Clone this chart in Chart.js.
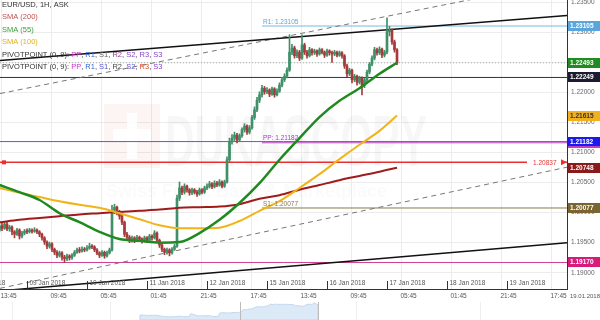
<!DOCTYPE html>
<html>
<head>
<meta charset="utf-8">
<script src="https://cdn.jsdelivr.net/npm/chart.js@4.4.1/dist/chart.umd.min.js"></script>
<style>
  html, body { margin: 0; padding: 0; background: #fff; }
  canvas { display: block; }
</style>
</head>
<body>
<canvas id="chart" width="600" height="320"></canvas>
<script>
/* ─── Data – EUR/USD 1H candles (hour index, weekend removed) ─── */
const firstHour = 13;          // 08 Jan 13:00
const firstOpen = 1.1971;

const closes = [
  1.1978,1.1974,1.1981,1.1973,1.1976,1.1968,1.1964,1.1971,1.1961,1.1966,
  1.1969,1.1968,1.1971,1.1969,1.1971,1.1968,1.1964,1.1958,1.1951,1.1944,
  1.1948,1.1939,1.1934,1.1929,1.1933,1.1926,1.1923,1.1928,1.1925,1.1929,
  1.1934,1.1938,1.1936,1.1939,1.1938,1.1941,1.1944,1.1943,1.1938,1.1933,
  1.1929,1.1934,1.1928,1.1933,1.1938,1.2004,1.2009,1.2001,1.1994,1.1984,
  1.1964,1.1959,1.1954,1.1958,1.1954,1.1959,1.1956,1.1953,1.1958,1.1954,
  1.1961,1.1958,1.1966,1.1954,1.1946,1.1939,1.1934,1.1938,1.1933,1.1939,
  1.1944,1.2024,1.2041,1.2034,1.2044,1.2038,1.2033,1.2038,1.2034,1.2031,
  1.2038,1.2034,1.2041,1.2044,1.2048,1.2043,1.2049,1.2046,1.2051,1.2044,
  1.2051,1.2088,1.2118,1.2124,1.2129,1.2121,1.2128,1.2138,1.2144,1.2134,
  1.2141,1.2158,1.2171,1.2187,1.2196,1.2207,1.2201,1.2204,1.2197,1.2206,
  1.2196,1.2202,1.2212,1.2221,1.2227,1.2237,1.2267,1.2274,1.2261,1.2267,
  1.2257,1.2279,1.2267,1.2261,1.2271,1.2266,1.2269,1.2264,1.2271,1.2267,
  1.2262,1.2269,1.2266,1.2264,1.2267,1.2262,1.2266,1.2261,1.2244,1.2231,
  1.2237,1.2221,1.2227,1.2217,1.2224,1.2212,1.2221,1.2234,1.2247,1.2257,
  1.2271,1.2266,1.2272,1.2262,1.2267,1.2301,1.2304,1.2284,1.2271,1.22493
];
const highs = [
  1.1983,1.1982,1.1985,1.1984,1.1979,1.1978,1.1970,1.1974,1.1973,1.1969,
  1.1972,1.1973,1.1974,1.1973,1.1975,1.1973,1.1970,1.1966,1.1960,1.1953,
  1.1951,1.1950,1.1941,1.1937,1.1936,1.1935,1.1929,1.1931,1.1930,1.1932,
  1.1937,1.1941,1.1942,1.1943,1.1942,1.1945,1.1949,1.1947,1.1945,1.1940,
  1.1935,1.1937,1.1936,1.1936,1.1941,1.2012,1.2014,1.2011,1.2004,1.1997,
  1.1986,1.1967,1.1962,1.1961,1.1960,1.1962,1.1961,1.1958,1.1961,1.1960,
  1.1964,1.1963,1.1970,1.1968,1.1956,1.1948,1.1941,1.1941,1.1940,1.1942,
  1.1947,1.2029,1.2051,1.2044,1.2048,1.2046,1.2040,1.2041,1.2040,1.2037,
  1.2041,1.2040,1.2044,1.2048,1.2052,1.2050,1.2053,1.2052,1.2055,1.2053,
  1.2054,1.2093,1.2124,1.2130,1.2134,1.2132,1.2131,1.2141,1.2148,1.2146,
  1.2145,1.2162,1.2176,1.2192,1.2201,1.2212,1.2210,1.2208,1.2206,1.2209,
  1.2208,1.2206,1.2216,1.2225,1.2231,1.2241,1.2296,1.2280,1.2277,1.2271,
  1.2270,1.2296,1.2282,1.2270,1.2275,1.2273,1.2272,1.2271,1.2274,1.2273,
  1.2269,1.2272,1.2271,1.2269,1.2270,1.2269,1.2269,1.2268,1.2263,1.2247,
  1.2240,1.2239,1.2230,1.2229,1.2227,1.2226,1.2224,1.2237,1.2250,1.2261,
  1.2275,1.2274,1.2276,1.2274,1.2270,1.2324,1.2310,1.2306,1.2287,1.2273
];
const lows = [
  1.1968,1.1970,1.1972,1.1970,1.1969,1.1963,1.1958,1.1962,1.1956,1.1958,
  1.1963,1.1965,1.1966,1.1966,1.1967,1.1965,1.1960,1.1954,1.1947,1.1940,
  1.1941,1.1935,1.1930,1.1925,1.1926,1.1921,1.1917,1.1920,1.1921,1.1922,
  1.1927,1.1932,1.1933,1.1934,1.1935,1.1936,1.1939,1.1940,1.1935,1.1930,
  1.1925,1.1927,1.1924,1.1926,1.1931,1.1936,1.1998,1.1996,1.1989,1.1980,
  1.1960,1.1955,1.1950,1.1951,1.1950,1.1952,1.1952,1.1949,1.1951,1.1950,
  1.1952,1.1954,1.1956,1.1951,1.1942,1.1935,1.1930,1.1931,1.1928,1.1931,
  1.1937,1.1942,1.2020,1.2030,1.2031,1.2034,1.2029,1.2030,1.2031,1.2027,
  1.2029,1.2031,1.2032,1.2038,1.2041,1.2040,1.2041,1.2043,1.2044,1.2041,
  1.2042,1.2049,1.2085,1.2114,1.2120,1.2116,1.2118,1.2125,1.2134,1.2130,
  1.2131,1.2139,1.2155,1.2168,1.2183,1.2192,1.2197,1.2198,1.2193,1.2195,
  1.2192,1.2194,1.2200,1.2209,1.2218,1.2224,1.2235,1.2263,1.2257,1.2258,
  1.2253,1.2255,1.2263,1.2257,1.2259,1.2262,1.2263,1.2260,1.2262,1.2264,
  1.2258,1.2260,1.2262,1.2250,1.2261,1.2259,1.2260,1.2257,1.2240,1.2226,
  1.2228,1.2216,1.2218,1.2212,1.2214,1.2196,1.2208,1.2218,1.2231,1.2244,
  1.2254,1.2262,1.2263,1.2258,1.2259,1.2264,1.2294,1.2280,1.2267,1.2246
];

/* moving averages */
const smaHours = [13,21,29,37,45,53,61,69,77,85,93,101,109,117,125,133,141,149,157,165,172];
const sma55  = [1.2046,1.2034,1.2021,1.1999,1.1984,1.1968,1.1956,1.1953,1.1950,1.1951,1.1966,
                1.1988,1.2016,1.2049,1.2088,1.2124,1.2159,1.2186,1.2207,1.2231,1.22493];
const sma100 = [1.2041,1.2033,1.2026,1.2019,1.2013,1.2008,1.1999,1.1989,1.1979,1.1974,1.1974,
                1.1975,1.1986,1.2003,1.2019,1.2041,1.2064,1.2089,1.2113,1.2136,1.21615];
const sma200 = [1.1984,1.1988,1.1991,1.1994,1.1997,1.1999,1.2001,1.2003,1.2005,1.2008,1.2009,
                1.2010,1.2014,1.2023,1.2029,1.2038,1.2046,1.2054,1.2061,1.2068,1.20748];

/* trend lines (value at left edge / right edge) */
const xMin = 13.2, xMax = 240;
const trendUpperSolid = [1.22531, 1.23281];
const trendUpperDash  = [1.21981, 1.23865];
const trendLowerDash  = [1.18740, 1.20756];
const trendLowerSolid = [1.18698, 1.19498];

/* horizontal levels */
const weekStart = 118;                 // pivot lines start here
const r1Level = 1.23105, ppLevel = 1.21182, s1Level = 1.20077;
const lastPrice = 1.22493, blackLevel = 1.22249, redLevel = 1.20837, pinkLevel = 1.19170;

/* axis labels */
const yMin = 1.18729, yMax = 1.23538;
const dayStarts = [0,24,48,72,96,120,144,168,192,216];
const dayLabels = ['08 Jan 2018','09 Jan 2018','10 Jan 2018','11 Jan 2018','12 Jan 2018',
                   '15 Jan 2018','16 Jan 2018','17 Jan 2018','18 Jan 2018','19 Jan 2018'];
const timeTicks = [13.75,33.75,53.75,73.75,93.75,113.75,133.75,153.75,173.75,193.75,213.75,233.75];
const timeLabels = ['13:45','09:45','05:45','01:45','21:45','17:45','13:45','09:45','05:45','01:45','21:45','17:45'];

/* ─── Build series ─────────────────────────────────────────── */
const opens = closes.map((c, i) => i === 0 ? firstOpen : closes[i - 1]);
const hourOf = i => firstHour + i;
const UP = '#3f8f68', DOWN = '#a63a3a';
const candleColor = closes.map((c, i) => c >= opens[i] ? UP : DOWN);

const two = (vals, a = xMin, b = xMax) => [{x: a, y: vals[0]}, {x: b, y: vals[1]}];
const flat = (v, a = xMin, b = xMax) => [{x: a, y: v}, {x: b, y: v}];
const lineDs = (data, color, width, extra = {}) => Object.assign({
  type: 'line', data, borderColor: color, borderWidth: width,
  pointRadius: 0, fill: false, tension: 0
}, extra);

const F = '"Liberation Sans", Arial, sans-serif';

/* ─── Plugin: watermark, labels, tags, legend, navigator ───── */
const decor = {
  id: 'decor',
  beforeDatasetsDraw(chart) {
    const ctx = chart.ctx;
    ctx.save();
    ctx.fillStyle = 'rgba(215,40,40,0.05)';
    ctx.fillRect(104, 104, 56, 64);
    ctx.fillStyle = 'rgba(255,255,255,0.9)';
    ctx.fillRect(127, 113, 10, 46);
    ctx.fillRect(113, 129, 38, 12);
    ctx.font = 'bold 72px ' + F;
    const w = ctx.measureText('DUKASCOPY').width;
    ctx.translate(165, 166);
    ctx.scale(262 / w, 1);
    ctx.fillStyle = 'rgba(0,0,0,0.03)';
    ctx.fillText('DUKASCOPY', 0, 0);
    ctx.restore();
    ctx.save();
    ctx.font = 'bold 18px ' + F;
    ctx.fillStyle = 'rgba(0,0,0,0.018)';
    ctx.fillText('Swiss Forex Bank & Marketplace', 106, 197);
    ctx.restore();
  },
  afterDraw(chart) {
    const ctx = chart.ctx, xs = chart.scales.x, ys = chart.scales.y;
    const area = chart.chartArea;
    const X = v => xs.getPixelForValue(v), Y = v => ys.getPixelForValue(v);
    ctx.save();

    /* level texts on the chart */
    ctx.font = '6.5px ' + F;
    ctx.textBaseline = 'alphabetic';
    ctx.textAlign = 'left';
    const x0 = X(weekStart) + 1;
    ctx.fillStyle = '#5aa6dc'; ctx.fillText('R1: ' + r1Level.toFixed(5), x0, Y(r1Level) - 2);
    ctx.fillStyle = '#a040c0'; ctx.fillText('PP: ' + ppLevel.toFixed(5), x0, Y(ppLevel) - 2);
    ctx.fillStyle = '#8a7a50'; ctx.fillText('S1: ' + s1Level.toFixed(5), x0, Y(s1Level) - 2);

    /* red level label with arrows */
    const ry = Y(redLevel);
    ctx.fillStyle = '#fff'; ctx.fillRect(527, ry - 4, 34, 8);
    ctx.fillStyle = '#e83030';
    ctx.textBaseline = 'middle';
    ctx.fillText(redLevel.toFixed(5), 533, ry + 0.5);
    ctx.beginPath(); ctx.moveTo(561, ry - 3); ctx.lineTo(567, ry); ctx.lineTo(561, ry + 3); ctx.fill();
    ctx.fillRect(2, ry - 2, 4, 4);

    /* date labels inside plot + small ticks */
    ctx.fillStyle = '#555';
    ctx.strokeStyle = '#333';
    ctx.lineWidth = 1;
    ctx.textBaseline = 'middle';
    dayStarts.forEach((d, i) => {
      const x = Math.round(X(d)) + 0.5;
      ctx.beginPath(); ctx.moveTo(x, area.bottom - 8); ctx.lineTo(x, area.bottom); ctx.stroke();
      ctx.fillText(dayLabels[i], x + 2, area.bottom - 6);
    });
    /* time labels under axis */
    timeTicks.forEach((t, i) => ctx.fillText(timeLabels[i], X(t) - 1, area.bottom + 7));
    ctx.font = '6px ' + F;
    ctx.fillText('19.01.2018', 570, area.bottom + 7);

    /* right-axis value tags */
    const tags = [
      [r1Level, '#5aa6dc', '#fff'], [lastPrice, '#1e8c1e', '#fff'], [blackLevel, '#1c1c30', '#fff'],
      [sma100[sma100.length - 1], '#f0b020', '#333'], [ppLevel, '#1a1aee', '#fff'],
      [sma200[sma200.length - 1], '#8b1a1a', '#fff'], [s1Level, '#7a6530', '#fff'],
      [pinkLevel, '#d81b7a', '#fff']
    ];
    ctx.font = 'bold 6.5px ' + F;
    tags.forEach(([v, bg, fg]) => {
      const y = Math.round(Y(v));
      ctx.fillStyle = bg; ctx.fillRect(area.right + 1, y - 5, 33, 10);
      if (v === ppLevel) { ctx.fillStyle = '#c040c0'; ctx.fillRect(area.right + 1, y + 4, 33, 2); }
      ctx.fillStyle = fg; ctx.fillText(v.toFixed(5), area.right + 3, y + 0.5);
    });

    /* legend */
    const rows = [
      [['EUR/USD, 1H, ASK', '#333']],
      [['SMA (200)', '#c0504d']],
      [['SMA (55)', '#3c9a3c']],
      [['SMA (100)', '#e0b020']],
      [['PIVOTPOINT (0, 9): ', '#333'], ['PP', '#cc33cc'], [', ', '#333'], ['R1', '#3366cc'], [', ', '#333'],
       ['S1', '#666'], [', ', '#333'], ['R2', '#884488'], [', ', '#333'], ['S2', '#8844cc'], [', ', '#333'],
       ['R3', '#8844cc'], [', ', '#333'], ['S3', '#8844cc']],
      [['PIVOTPOINT (0, 9): ', '#333'], ['PP', '#cc33cc'], [', ', '#333'], ['R1', '#3366cc'], [', ', '#333'],
       ['S1', '#5555cc'], [', ', '#333'], ['R2', '#444'], [', ', '#333'], ['S2', '#6655cc'], [', ', '#333'],
       ['R3', '#e05030'], [', ', '#333'], ['S3', '#8844cc']]
    ];
    const rowY = [5, 17, 29.5, 42, 54.5, 67];
    ctx.font = '7.5px ' + F;
    rows.forEach((row, r) => {
      let x = 2;
      row.forEach(([t, c]) => { ctx.fillStyle = c; ctx.fillText(t, x, rowY[r]); x += ctx.measureText(t).width; });
    });

    /* navigator strip */
    const nx0 = 140, nx1 = 318, ny0 = 303, ny1 = 320;
    const lo = Math.min(...closes), hi = Math.max(...closes);
    ctx.beginPath();
    ctx.moveTo(nx0, ny1);
    closes.forEach((c, i) => ctx.lineTo(nx0 + (nx1 - nx0) * i / (closes.length - 1), ny1 - 3 - (c - lo) / (hi - lo) * (ny1 - ny0 - 3)));
    ctx.lineTo(nx1, ny1);
    ctx.closePath();
    ctx.fillStyle = '#dce9f7'; ctx.fill();
    ctx.strokeStyle = '#c2d6ee'; ctx.stroke();
    ctx.strokeStyle = '#bbb';
    [240, 318].forEach(x => { ctx.beginPath(); ctx.moveTo(x + 0.5, 302); ctx.lineTo(x + 0.5, 320); ctx.stroke(); });
    ctx.strokeStyle = '#eee';
    [12, 110, 356, 480].forEach(x => { ctx.beginPath(); ctx.moveTo(x + 0.5, 302); ctx.lineTo(x + 0.5, 320); ctx.stroke(); });
    ctx.restore();
  }
};

/* ─── Chart ────────────────────────────────────────────────── */
new Chart(document.getElementById('chart'), {
  type: 'bar',
  data: {
    datasets: [
      lineDs(sma55.map((v, i) => ({x: smaHours[i], y: v})), '#1f8a1f', 2.5, {cubicInterpolationMode: 'monotone', order: 1}),
      lineDs(sma100.map((v, i) => ({x: smaHours[i], y: v})), '#f0b418', 2, {cubicInterpolationMode: 'monotone', order: 2}),
      lineDs(sma200.map((v, i) => ({x: smaHours[i], y: v})), '#a01c1c', 2, {cubicInterpolationMode: 'monotone', order: 3}),
      {
        type: 'bar', order: 5, grouped: false, barThickness: 2, minBarLength: 1,
        data: closes.map((c, i) => ({x: hourOf(i), y: [opens[i], c]})),
        backgroundColor: candleColor
      },
      {
        type: 'bar', order: 6, grouped: false, barThickness: 1,
        data: closes.map((c, i) => ({x: hourOf(i), y: [lows[i], highs[i]]})),
        backgroundColor: candleColor
      },
      lineDs(two(trendUpperSolid), '#111', 1.5, {order: 10}),
      lineDs(two(trendLowerSolid), '#111', 1.5, {order: 10}),
      lineDs(two(trendUpperDash), '#777', 1, {order: 10, borderDash: [5, 4]}),
      lineDs(two(trendLowerDash), '#777', 1, {order: 10, borderDash: [5, 4]}),
      lineDs(flat(lastPrice), '#9fb0a4', 1, {order: 11, borderDash: [1, 2]}),
      lineDs(flat(blackLevel), '#333', 1, {order: 11}),
      lineDs(flat(r1Level, weekStart), '#7ab8e0', 1, {order: 11}),
      lineDs(flat(ppLevel), '#5b5bd6', 1, {order: 11}),
      lineDs(flat(ppLevel - 0.0002, weekStart), '#c040c0', 1, {order: 11}),
      lineDs(flat(redLevel), '#e83030', 1.5, {order: 11}),
      lineDs(flat(s1Level, weekStart), '#8a7a50', 1, {order: 11}),
      lineDs(flat(pinkLevel), '#d04090', 1, {order: 11})
    ]
  },
  options: {
    responsive: false,
    animation: false,
    events: [],
    devicePixelRatio: 1,
    layout: { padding: 0 },
    plugins: { legend: { display: false }, tooltip: { enabled: false } },
    scales: {
      x: {
        type: 'linear', min: xMin, max: xMax, offset: false,
        grid: { color: '#ececec', offset: false, drawTicks: false },
        border: { color: '#333' },
        ticks: { display: false },
        afterBuildTicks: s => { s.ticks = timeTicks.map(v => ({value: v})); },
        afterFit: s => { s.height = 31; s.paddingLeft = 0; s.paddingRight = 0; }
      },
      y: {
        position: 'right', min: yMin, max: yMax,
        grid: { color: '#ececec', drawTicks: false },
        border: { color: '#333' },
        ticks: {
          stepSize: 0.005, includeBounds: false, padding: 4,
          color: '#666', font: { size: 6.5, family: F },
          callback: v => v.toFixed(5)
        },
        afterFit: s => { s.width = 33; s.paddingTop = 0; s.paddingBottom = 0; }
      }
    }
  },
  plugins: [decor]
});
</script>
</body>
</html>
